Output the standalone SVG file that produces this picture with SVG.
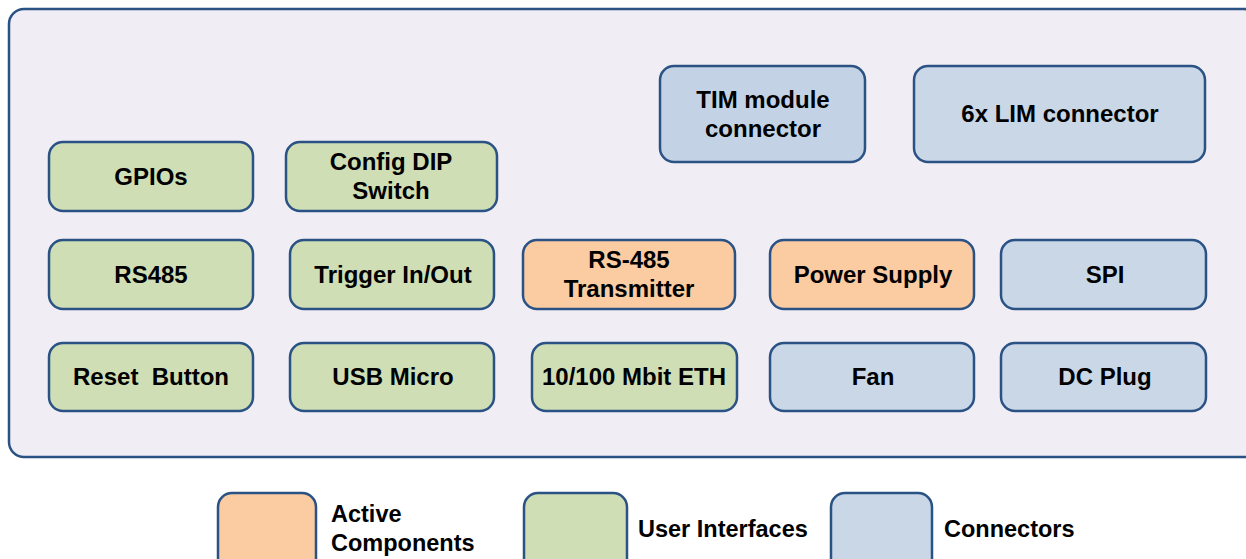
<svg xmlns="http://www.w3.org/2000/svg" width="1246" height="559" viewBox="0 0 1246 559">
  <style>
    .box { stroke: #2b5285; stroke-width: 2.5; }
    .ui { fill: #cfdeb4; }
    .act { fill: #fbcba2; }
    .con { fill: #c9d7e7; }
    .lbl { font-family: "Liberation Sans", Arial, sans-serif; font-weight: bold; font-size: 24px; fill: #000; text-anchor: middle; }
    .leg { font-family: "Liberation Sans", Arial, sans-serif; font-weight: bold; font-size: 23.5px; fill: #000; }
  </style>
  <rect width="1246" height="559" fill="#ffffff"/>
  <!-- board outline -->
  <rect id="board" x="9" y="9" width="1250" height="448" rx="15" fill="#f0eef4" stroke="#2b5285" stroke-width="2.5"/>

  <g id="gpios"><rect class="box ui" x="49" y="142" width="204" height="69" rx="14"/><text class="lbl" x="151" y="185">GPIOs</text></g>
  <g id="config-dip"><rect class="box ui" x="286" y="142" width="211" height="69" rx="14"/><text class="lbl" x="391" y="170">Config DIP</text><text class="lbl" x="391" y="199">Switch</text></g>
  <g id="tim-connector"><rect class="box con" x="660" y="66" width="205" height="96" rx="14" style="fill:#c3d3e5"/><text class="lbl" x="763" y="108">TIM module</text><text class="lbl" x="763" y="137">connector</text></g>
  <g id="lim-connector"><rect class="box con" x="914" y="66" width="291" height="96" rx="14"/><text class="lbl" x="1060" y="122">6x LIM connector</text></g>

  <g id="rs485"><rect class="box ui" x="49" y="240" width="204" height="69" rx="14"/><text class="lbl" x="151" y="283">RS485</text></g>
  <g id="trigger"><rect class="box ui" x="290" y="240" width="204" height="69" rx="14"/><text class="lbl" x="393" y="283">Trigger In/Out</text></g>
  <g id="rs485-tx"><rect class="box act" x="523" y="240" width="212" height="69" rx="14"/><text class="lbl" x="629" y="268">RS-485</text><text class="lbl" x="629" y="297">Transmitter</text></g>
  <g id="power-supply"><rect class="box act" x="770" y="240" width="204" height="69" rx="14"/><text class="lbl" x="873" y="283">Power Supply</text></g>
  <g id="spi"><rect class="box con" x="1001" y="240" width="205" height="69" rx="14"/><text class="lbl" x="1105" y="283">SPI</text></g>

  <g id="reset"><rect class="box ui" x="49" y="343" width="204" height="68" rx="14"/><text class="lbl" x="151" y="385" xml:space="preserve">Reset  Button</text></g>
  <g id="usb"><rect class="box ui" x="290" y="343" width="204" height="68" rx="14"/><text class="lbl" x="393" y="385">USB Micro</text></g>
  <g id="eth"><rect class="box ui" x="532" y="343" width="205" height="68" rx="14"/><text class="lbl" x="634" y="385">10/100 Mbit ETH</text></g>
  <g id="fan"><rect class="box con" x="770" y="343" width="204" height="68" rx="14"/><text class="lbl" x="873" y="385">Fan</text></g>
  <g id="dc-plug"><rect class="box con" x="1001" y="343" width="205" height="68" rx="14"/><text class="lbl" x="1105" y="385">DC Plug</text></g>

  <!-- legend -->
  <g id="legend-active"><rect class="box act" x="218" y="493" width="98" height="80" rx="14"/><text class="leg" x="331" y="522">Active</text><text class="leg" x="331" y="551">Components</text></g>
  <g id="legend-ui"><rect class="box ui" x="524" y="493" width="103" height="80" rx="14"/><text class="leg" x="638" y="537">User Interfaces</text></g>
  <g id="legend-con"><rect class="box con" x="831" y="493" width="101" height="80" rx="14"/><text class="leg" x="944" y="537">Connectors</text></g>
  <g id="connectors"/>
</svg>
